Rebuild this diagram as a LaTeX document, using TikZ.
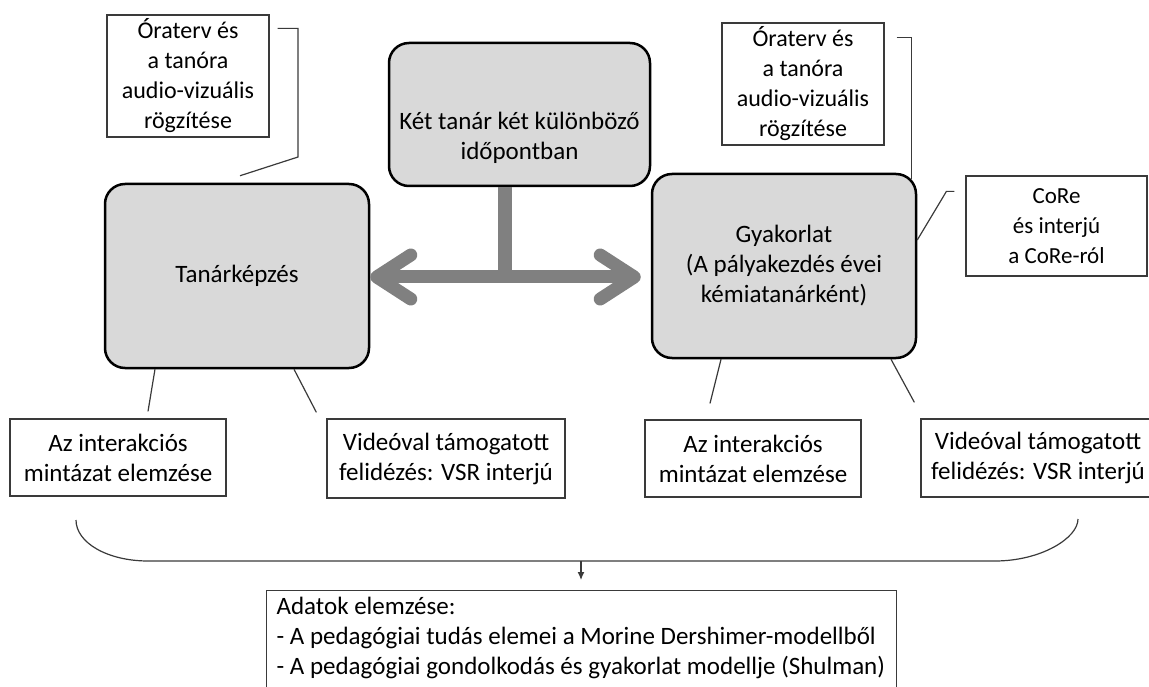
\documentclass[tikz,border=0pt]{standalone}
\usepackage{fontspec}
\setmainfont{Carlito}
\usepackage{xcolor}
\usetikzlibrary{arrows.meta}
\definecolor{boxgray}{HTML}{D9D9D9}
\definecolor{arrowgray}{HTML}{808080}
\definecolor{linegray}{HTML}{3A3A3A}

\begin{document}
\begin{tikzpicture}[x=1pt, y=-1pt, font=\fontsize{25}{30}\selectfont,
    mainbox/.style={fill=boxgray, draw=black, line width=2.5pt, rounded corners=20pt, align=center},
    notebox/.style={draw=linegray, line width=1.2pt, align=center},
    leader/.style={linegray, line width=1.2pt}]
    \useasboundingbox (0,0) rectangle (1149,687);
    \node[mainbox, minimum width=261pt, minimum height=143pt, text height=94pt] (meet) at (519.5,114.5)
          {Két tanár két különböző\\időpontban};
    \node[mainbox, minimum width=264pt, minimum height=184pt] (training) at (237,276) {Tanárképzés};
    \node[mainbox, minimum width=264pt, minimum height=184pt] (practice) at (784,266)
          {Gyakorlat\\(A pályakezdés évei\\kémiatanárként)};
    \node[notebox, font=\fontsize{24}{30}\selectfont, minimum width=162pt, minimum height=122pt] (planL) at (188,76)
          {Óraterv és\\a tanóra\\audio-vizuális\\rögzítése};
    \node[notebox, font=\fontsize{24}{30}\selectfont, minimum width=162pt, minimum height=122pt] (planR) at (803,84)
          {Óraterv és\\a tanóra\\audio-vizuális\\rögzítése};
    \node[notebox, font=\fontsize{23}{30}\selectfont, minimum width=181pt, minimum height=100pt] (core) at (1056.5,226)
          {CoRe\\és interjú\\a CoRe-ról};
    \node[notebox, minimum width=216pt, minimum height=77pt] (patternL) at (118,457.5)
          {Az interakciós\\mintázat elemzése};
    \node[notebox, minimum width=238pt, minimum height=79pt] (recallL) at (446,458.5)
          {Videóval támogatott\\felidézés: VSR interjú};
    \node[notebox, minimum width=216pt, minimum height=77pt] (patternR) at (753,458.5)
          {Az interakciós\\mintázat elemzése};
    \node[notebox, minimum width=234pt, minimum height=78pt] (recallR) at (1038,458)
          {Videóval támogatott\\felidézés: VSR interjú};
    \node[notebox, align=flush left, anchor=north west, inner xsep=10pt, inner ysep=7pt,
          text width=610pt, text depth=80pt] (data) at (266,590)
          {Adatok elemzése:\\- A pedagógiai tudás elemei a Morine Dershimer-modellből\\- A pedagógiai gondolkodás és gyakorlat modellje (Shulman)};

    \coordinate (fork) at (505,277);
    \path (fork -| practice.west) ++(-10,0) coordinate (tipR);
    \draw[arrowgray, line width=14pt] (fork |- meet.south) -- (fork);
    \draw[arrowgray, line width=13pt, {Straight Barb[round, length=34pt, width=44pt]}-{Straight Barb[round, length=34pt, width=44pt]}]
          (fork -| training.east) -- (tipR);

    \coordinate (planLa) at ([xshift=8pt, yshift=-14pt]planL.north east);
    \coordinate (planLb) at (298,157);
    \coordinate (planLc) at ([xshift=3pt, yshift=7pt]training.north);
    \draw[leader] (planLa) -| (planLb) -- (planLc);
    \coordinate (planRa) at ([xshift=12pt, yshift=-15pt]planR.north east);
    \draw[leader] (planRa) -| ([xshift=-6pt, yshift=-6pt]practice.north east);
    \coordinate (coreA) at ([xshift=-11pt, yshift=-16pt]core.north west);
    \draw[leader] (coreA) -- ++(-8,0) -- ([yshift=26pt]practice.east);

    \draw[leader] ([xshift=-82pt]training.south) -- ([xshift=30pt, yshift=7pt]patternL.north);
    \draw[leader] ([xshift=57pt]training.south) -- ([xshift=-10pt, yshift=6pt]recallL.north west);
    \draw[leader] ([xshift=-63pt]practice.south) -- ([xshift=-43pt, yshift=16pt]patternR.north);
    \draw[leader] ([xshift=107pt]practice.south) -- ([xshift=-6pt, yshift=16pt]recallR.north west);

    \coordinate (braceL) at (76,520);
    \coordinate (braceR) at (1078,519);
    \coordinate (braceMid) at (581,561);
    \draw[leader] (braceL) .. controls (76,543) and (108,561) .. (148,561)
          -- (995,561) .. controls (1041,561) and (1078,538) .. (braceR);
    \draw[leader, -{Latex[length=8pt, width=7pt]}, shorten >=10pt] (braceMid) -- (data.north -| braceMid);
\end{tikzpicture}
\end{document}
